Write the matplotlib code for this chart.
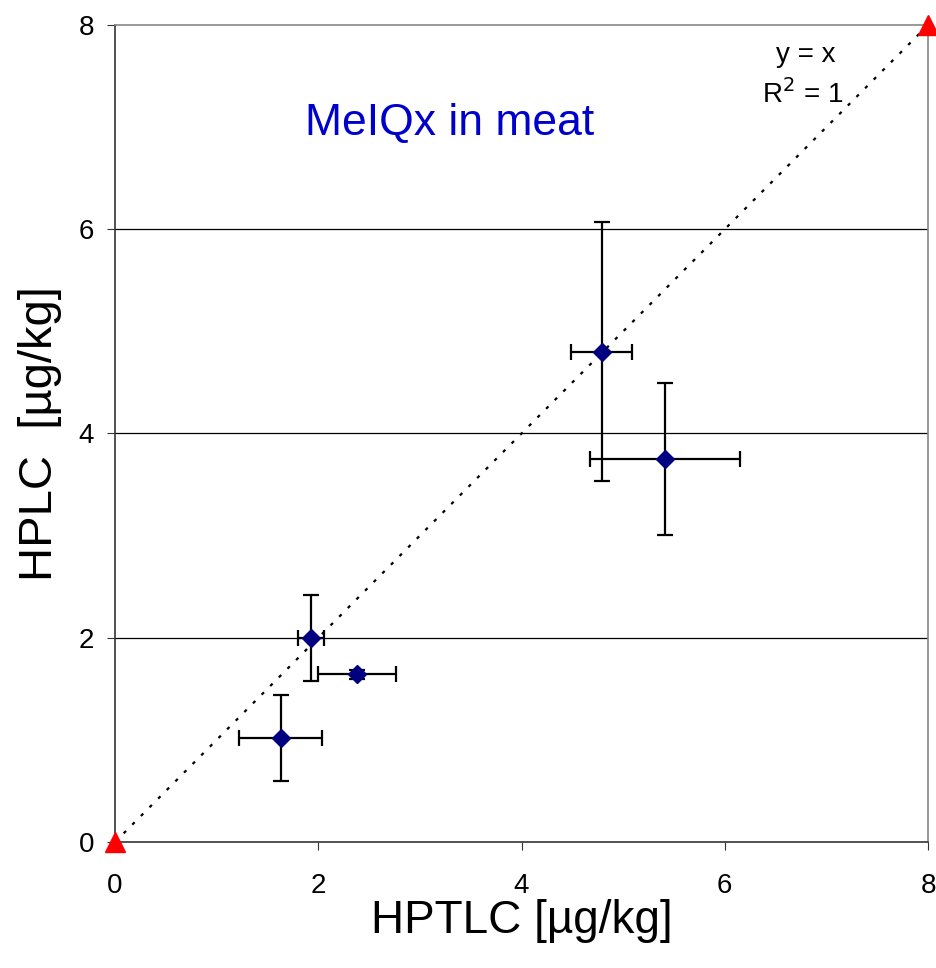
import numpy as np
import matplotlib.pyplot as plt

plt.rcParams['font.family'] = ['Liberation Sans', 'DejaVu Sans']

# measured samples: HPTLC (x) vs HPLC (y), with error bars
hptlc = [1.63, 1.93, 2.38, 4.79, 5.41]
hplc = [1.02, 2.00, 1.64, 4.80, 3.75]
hptlc_err = [0.41, 0.13, 0.38, 0.30, 0.74]
hplc_err = [0.42, 0.42, 0.04, 1.27, 0.74]

# reference line endpoints
ref_x = [0, 8]
ref_y = [0, 8]

fig = plt.figure(figsize=(9.36, 9.68), dpi=100)
ax = fig.add_axes([0.1229, 0.1302, 0.8686, 0.8440])

ax.set_xlim(0, 8)
ax.set_ylim(0, 8)
ax.set_xticks([0, 2, 4, 6, 8])
ax.set_yticks([0, 2, 4, 6, 8])

for yv in [2, 4, 6]:
    ax.axhline(yv, color='black', lw=0.9, zorder=1)

ax.plot(ref_x, ref_y, color='black', lw=1.6, linestyle=(0, (1.5, 4)), zorder=2)

ax.errorbar(hptlc, hplc, xerr=hptlc_err, yerr=hplc_err, fmt='D',
            color='#000080', ecolor='black', elinewidth=1.6, capsize=6,
            capthick=1.6, markersize=9, zorder=3)

ax.plot(ref_x, ref_y, linestyle='none', marker='^', color='red',
        markersize=15, clip_on=False, zorder=4)

for s in ['top', 'right']:
    ax.spines[s].set_color('#888888')
for s in ['left', 'bottom']:
    ax.spines[s].set_color('#333333')
for s in ax.spines.values():
    s.set_linewidth(1.2)

ax.tick_params(axis='both', labelsize=20, length=6, color='#333333')
ax.tick_params(axis='x', pad=16)
ax.tick_params(axis='y', pad=9)

ax.set_xlabel('HPTLC [µg/kg]', fontsize=33, labelpad=0)
ax.set_ylabel('HPLC  [µg/kg]', fontsize=34, labelpad=12)

ax.text(0.411, 0.865, 'MeIQx in meat', transform=ax.transAxes, fontsize=32,
        color='#0000CC', ha='center', va='baseline')
ax.text(0.849, 0.955, 'y = x', transform=ax.transAxes, fontsize=20,
        ha='center', va='baseline')
ax.text(0.846, 0.905, 'R$^2$ = 1', transform=ax.transAxes, fontsize=20,
        ha='center', va='baseline')

fig.savefig('out.png')
